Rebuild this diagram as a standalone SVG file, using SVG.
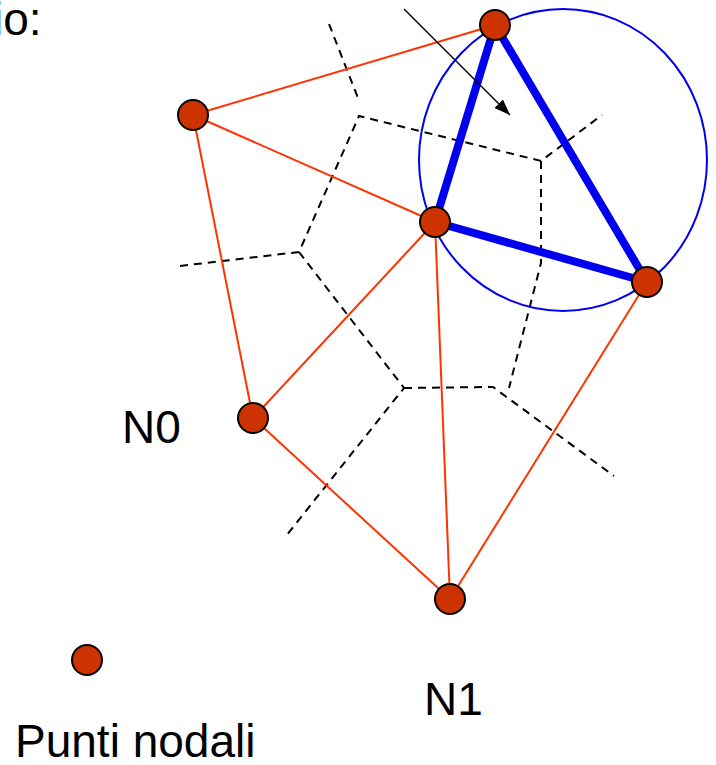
<svg xmlns="http://www.w3.org/2000/svg" width="716" height="765" viewBox="0 0 716 765">
<defs>
<style>
.lbl{font-family:"Liberation Sans",Arial,sans-serif;font-size:46px;fill:#000}
.edge{stroke:#FF3300;stroke-width:2;fill:none}
.vor{stroke:#000;stroke-width:2;stroke-dasharray:8 6;fill:none}
.tri{stroke:#0000EE;stroke-width:8;fill:none;stroke-linejoin:round}
.node{fill:#CC3300;stroke:#000;stroke-width:2}
</style>
<marker id="ah2" viewBox="0 0 16 12" refX="16" refY="6" markerWidth="16" markerHeight="12" markerUnits="userSpaceOnUse" orient="auto">
<path d="M0,0 L16,6 L0,12 z" fill="#000"/>
</marker>
</defs>
<rect width="716" height="765" fill="#fff"/>
<text class="lbl" x="-7" y="35">io:</text>
<g id="voronoi">
<path class="vor" d="M180,266 L299,252 L359,116 L541,161 L602,115"/>
<path class="vor" d="M299,252 L404,388 L286,536"/>
<path class="vor" d="M404,388 L493,387 L614,476"/>
<path class="vor" d="M541,161 L541,263 L509,388"/>
<path class="vor" d="M329,24 L358,98"/>
</g>
<g id="connectors">
<line class="edge" x1="495" y1="25" x2="193" y2="115"/>
<line class="edge" x1="193" y1="115" x2="435" y2="222"/>
<line class="edge" x1="193" y1="115" x2="253" y2="418"/>
<line class="edge" x1="253" y1="418" x2="435" y2="222"/>
<line class="edge" x1="253" y1="418" x2="450" y2="599"/>
<line class="edge" x1="435" y1="222" x2="450" y2="599"/>
<line class="edge" x1="647" y1="282" x2="450" y2="599"/>
<path class="tri" d="M495,25 L435,222 L647,282 Z"/>
<line x1="404" y1="9" x2="510" y2="115" stroke="#000" stroke-width="1.5" marker-end="url(#ah2)"/>
</g>
<ellipse id="circumcircle" cx="563" cy="160" rx="144" ry="151" fill="none" stroke="#0000EE" stroke-width="2"/>
<g id="nA"><circle class="node" cx="495" cy="25" r="15"/></g>
<g id="nB"><circle class="node" cx="193" cy="115" r="15"/></g>
<g id="nC"><circle class="node" cx="435" cy="222" r="15"/></g>
<g id="nD"><circle class="node" cx="647" cy="282" r="15"/></g>
<g id="nN0"><circle class="node" cx="253" cy="418" r="15"/><text class="lbl" x="122" y="443">N0</text></g>
<g id="nN1"><circle class="node" cx="450" cy="599" r="15"/><text class="lbl" x="424" y="715">N1</text></g>
<g id="legend"><circle class="node" cx="87" cy="660" r="15"/><text class="lbl" x="15" y="757">Punti nodali</text></g>
</svg>
